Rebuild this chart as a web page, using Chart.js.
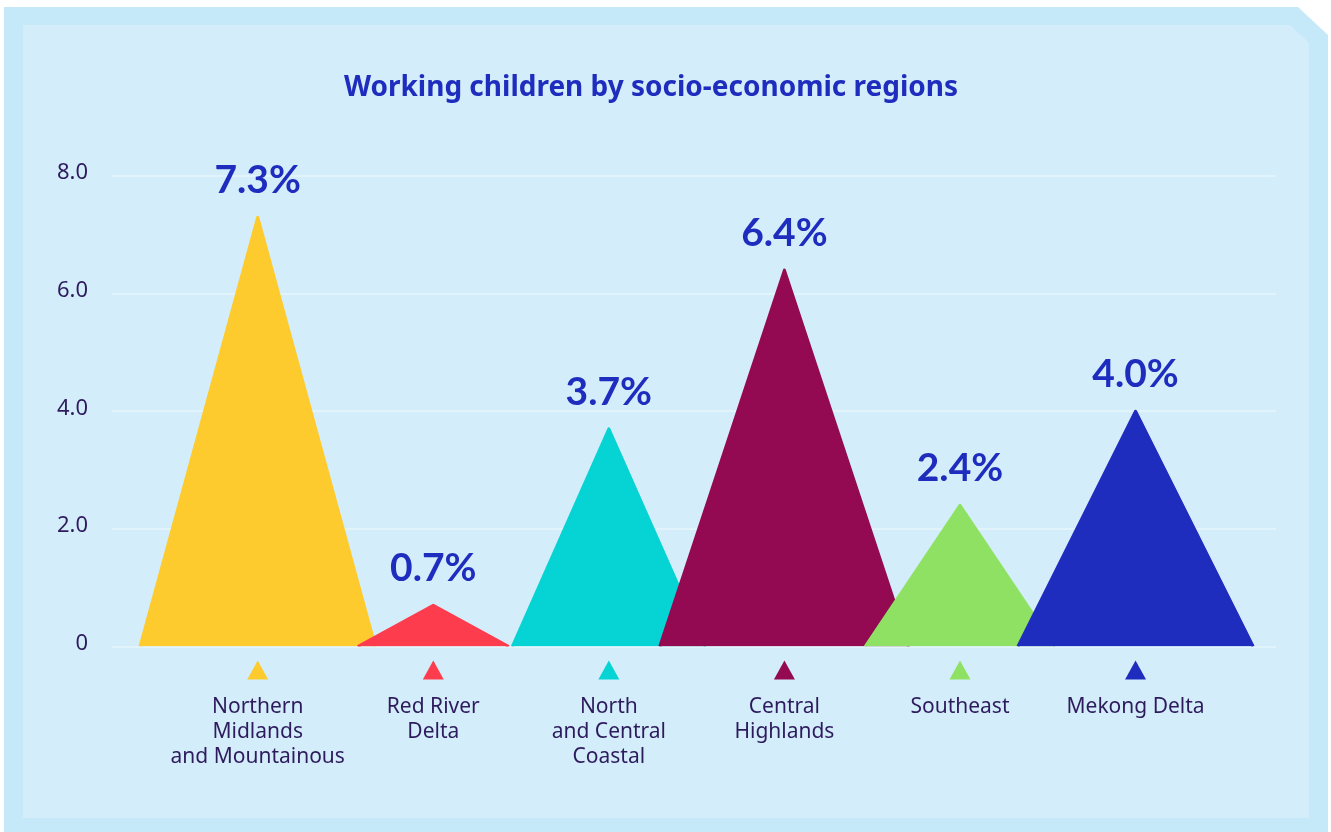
<!DOCTYPE html>
<html>
<head>
<meta charset="utf-8">
<title>Working children by socio-economic regions</title>
<script src="https://cdn.jsdelivr.net/npm/chart.js@4/dist/chart.umd.min.js"></script>
<style>
  html, body { margin: 0; padding: 0; background: #ffffff; }
  #stage { position: relative; width: 1331px; height: 832px; overflow: hidden; }
  .frame {
    position: absolute; left: 4px; top: 7px; width: 1324px; height: 830px;
    background: #c6e9f9;
    clip-path: polygon(0 0, 1294px 0, 100% 28px, 100% 100%, 0 100%);
  }
  .panel {
    position: absolute; left: 23px; top: 25px; width: 1286px; height: 793px;
    background: #d3eefa;
    clip-path: polygon(0 0, 1267px 0, 100% 18px, 100% 100%, 0 100%);
  }
  #chart { position: absolute; left: 0; top: 0; }
</style>
</head>
<body>
<div id="stage">
  <div class="frame"></div>
  <div class="panel"></div>
  <canvas id="chart" width="1331" height="832"></canvas>
</div>
<script>
// Regions (label lines as printed under the axis)
const regions = [
  ["Northern", "Midlands", "and Mountainous"],
  ["Red River", "Delta"],
  ["North", "and Central", "Coastal"],
  ["Central", "Highlands"],
  ["Southeast"],
  ["Mekong Delta"]
];

// Share of working children, %
const shares = [7.3, 0.7, 3.7, 6.4, 2.4, 4.0];

// Y axis ticks and their labels
const yTickValues = [0, 2, 4, 6, 8];
const yTickLabels = ["0", "2.0", "4.0", "6.0", "8.0"];

// Styling
const peakColors = ["#fecb2f", "#fd3d4e", "#06d3d3", "#930a52", "#8fe163", "#1f2dbe"];
const peakHalfWidths = [0.67, 0.43, 0.55, 0.71, 0.54, 0.67]; // in category units
const inkPurple = "#2e1b5e";
const titleBlue = "#1f2dbf";

Chart.defaults.font.family = "'Noto Sans', 'DejaVu Sans', sans-serif";
Chart.defaults.color = inkPurple;

const datasets = regions.map((r, i) => ({
  label: r.join(" "),
  data: [
    { x: i - peakHalfWidths[i], y: 0 },
    { x: i, y: shares[i] },
    { x: i + peakHalfWidths[i], y: 0 }
  ],
  backgroundColor: peakColors[i],
  borderColor: peakColors[i],
  borderWidth: 3,
  borderJoinStyle: "round",
  fill: "origin",
  tension: 0,
  pointRadius: 0,
  pointHoverRadius: 0,
  order: regions.length - i,
  clip: { left: false, right: false, top: false, bottom: 0 }
}));

// Value labels over each peak and small colour markers above the region names
const peakDecor = {
  id: "peakDecor",
  afterDatasetsDraw(chart) {
    const ctx = chart.ctx;
    ctx.save();
    ctx.font = "700 39px Lato, 'Noto Sans', sans-serif";
    ctx.fillStyle = titleBlue;
    ctx.textAlign = "center";
    ctx.textBaseline = "alphabetic";
    chart.data.datasets.forEach((ds, i) => {
      const tip = chart.getDatasetMeta(i).data[1];
      ctx.fillText(shares[i].toFixed(1) + "%", tip.x, tip.y - 24);
    });
    const xs = chart.scales.x;
    const base = chart.chartArea.bottom;
    regions.forEach((r, i) => {
      const cx = xs.getPixelForValue(i);
      ctx.beginPath();
      ctx.moveTo(cx - 10.5, base + 33);
      ctx.lineTo(cx + 10.5, base + 33);
      ctx.lineTo(cx, base + 14);
      ctx.closePath();
      ctx.fillStyle = peakColors[i];
      ctx.fill();
    });
    ctx.restore();
  }
};

new Chart(document.getElementById("chart"), {
  type: "line",
  data: { datasets },
  options: {
    responsive: false,
    animation: false,
    events: [],
    layout: { padding: { left: 26, right: 55, top: 0, bottom: 45.5 } },
    plugins: {
      legend: { display: false },
      tooltip: { enabled: false },
      title: {
        display: true,
        text: "Working children by socio-economic regions",
        color: titleBlue,
        font: { size: 28, weight: "700", lineHeight: 1.2 },
        padding: { top: 71, bottom: 71.4 }
      }
    },
    scales: {
      x: {
        type: "linear",
        min: -0.83,
        max: 5.8,
        grid: { display: false },
        border: { display: false },
        afterBuildTicks: (scale) => { scale.ticks = regions.map((r, i) => ({ value: i })); },
        afterFit: (scale) => { scale.height = 140; },
        ticks: {
          autoSkip: false,
          maxRotation: 0,
          padding: 40,
          color: inkPurple,
          font: { size: 21, lineHeight: 1.19 },
          callback: (v) => regions[v]
        }
      },
      y: {
        min: 0,
        max: 8,
        border: { display: false },
        grid: { color: "#e1f4fc", lineWidth: 2, drawTicks: false },
        afterBuildTicks: (scale) => { scale.ticks = yTickValues.map(v => ({ value: v })); },
        afterFit: (scale) => { scale.width = 86; },
        ticks: {
          padding: 24,
          labelOffset: -3,
          color: inkPurple,
          font: { size: 22 },
          callback: (v) => yTickLabels[yTickValues.indexOf(v)]
        }
      }
    }
  },
  plugins: [peakDecor]
});
</script>
</body>
</html>
